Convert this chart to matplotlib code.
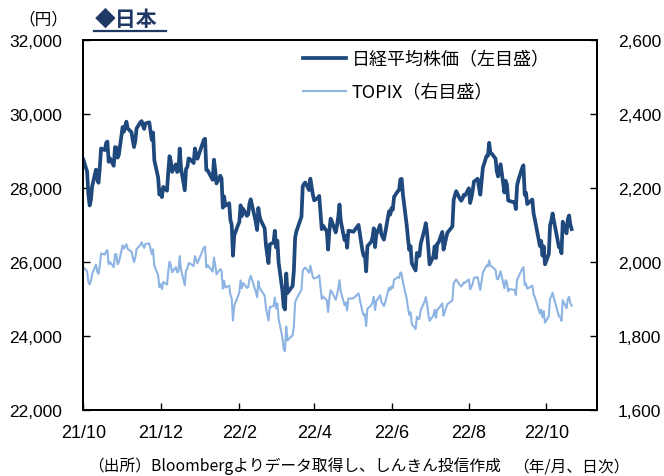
import matplotlib
matplotlib.use("Agg")
import matplotlib.pyplot as plt
import pandas as pd

# ---------------- data ----------------
months = ["2021-10", "2021-11", "2021-12", "2022-01", "2022-02", "2022-03",
          "2022-04", "2022-05", "2022-06", "2022-07", "2022-08", "2022-09", "2022-10"]

trade_days = {
    "2021-10": [1, 4, 5, 6, 7, 8, 11, 12, 13, 14, 15, 18, 19, 20, 21, 22, 25, 26, 27, 28, 29],
    "2021-11": [1, 2, 4, 5, 8, 9, 10, 11, 12, 15, 16, 17, 18, 19, 22, 24, 25, 26, 29, 30],
    "2021-12": [1, 2, 3, 6, 7, 8, 9, 10, 13, 14, 15, 16, 17, 20, 21, 22, 23, 24, 27, 28, 29, 30],
    "2022-01": [4, 5, 6, 7, 11, 12, 13, 14, 17, 18, 19, 20, 21, 24, 25, 26, 27, 28, 31],
    "2022-02": [1, 2, 3, 4, 7, 8, 9, 10, 14, 15, 16, 17, 18, 21, 22, 24, 25, 28],
    "2022-03": [1, 2, 3, 4, 7, 8, 9, 10, 11, 14, 15, 16, 17, 18, 22, 23, 24, 25, 28, 29, 30, 31],
    "2022-04": [1, 4, 5, 6, 7, 8, 11, 12, 13, 14, 15, 18, 19, 20, 21, 22, 25, 26, 27, 28],
    "2022-05": [2, 6, 9, 10, 11, 12, 13, 16, 17, 18, 19, 20, 23, 24, 25, 26, 27, 30, 31],
    "2022-06": [1, 2, 3, 6, 7, 8, 9, 10, 13, 14, 15, 16, 17, 20, 21, 22, 23, 24, 27, 28, 29, 30],
    "2022-07": [1, 4, 5, 6, 7, 8, 11, 12, 13, 14, 15, 19, 20, 21, 22, 25, 26, 27, 28, 29],
    "2022-08": [1, 2, 3, 4, 5, 8, 9, 10, 12, 15, 16, 17, 18, 19, 22, 23, 24, 25, 26, 29, 30, 31],
    "2022-09": [1, 2, 5, 6, 7, 8, 9, 12, 13, 14, 15, 16, 20, 21, 22, 26, 27, 28, 29, 30],
    "2022-10": [3, 4, 5, 6, 7, 11, 12, 13, 14, 17, 18, 19, 20, 21],
}

nikkei = {
    "2021-10": [28771, 28444, 27822, 27528, 27678, 28048, 28498, 28230, 28140, 28550, 29068, 29025, 29215,
                29255, 28708, 28804, 28600, 29106, 29098, 28820, 28892],
    "2021-11": [29647, 29520, 29794, 29611, 29507, 29285, 29106, 29277, 29609, 29776, 29808, 29688, 29598,
                29745, 29774, 29302, 29499, 28751, 28283, 27821],
    "2021-12": [27935, 27753, 28029, 27927, 28455, 28860, 28725, 28437, 28640, 28432, 28459, 29066, 28545,
                27937, 28517, 28562, 28798, 28782, 28676, 29069, 28906, 28791],
    "2022-01": [29301, 29332, 28487, 28478, 28222, 28765, 28489, 28124, 28333, 28257, 27467, 27772, 27522,
                27588, 27131, 27011, 26170, 26717, 27001],
    "2022-02": [27078, 27533, 27241, 27439, 27248, 27284, 27579, 27696, 27079, 26865, 27460, 27232, 27122,
                26910, 26449, 25970, 26476, 26526],
    "2022-03": [26844, 26393, 26577, 25985, 25221, 24790, 24717, 25690, 25163, 25307, 25346, 25762, 26652,
                26827, 27224, 28040, 28110, 28149, 27943, 28252, 28027, 27821],
    "2022-04": [27665, 27736, 27787, 27350, 26888, 26985, 26821, 26335, 26843, 27172, 27093, 26799, 26985,
                27217, 27553, 27105, 26590, 26700, 26386, 26847],
    "2022-05": [26818, 27003, 26319, 26167, 26213, 25748, 26427, 26547, 26659, 26911, 26402, 26739, 27001,
                26748, 26677, 26604, 26781, 27369, 27279],
    "2022-06": [27457, 27413, 27761, 27915, 27943, 28234, 28246, 27824, 26987, 26629, 26326, 26431, 25963,
                25771, 26246, 26149, 26171, 26491, 26871, 27049, 26804, 26393],
    "2022-07": [25935, 26153, 26423, 26107, 26490, 26517, 26812, 26336, 26478, 26643, 26788, 26961, 27680,
                27803, 27914, 27699, 27655, 27715, 27815, 27801],
    "2022-08": [27993, 27594, 27741, 27932, 28175, 28249, 27999, 27819, 28546, 28871, 28868, 29222, 28942,
                28930, 28794, 28452, 28313, 28479, 28641, 27878, 28195, 28091],
    "2022-09": [27661, 27650, 27619, 27626, 27430, 28065, 28214, 28542, 28614, 27818, 27875, 27567, 27688,
                27313, 27153, 26431, 26571, 26173, 26422, 25937],
    "2022-10": [26215, 26992, 27120, 27311, 27116, 26401, 26397, 26237, 27090, 26775, 27156, 27257, 27006,
                26890],
}

topix = {
    "2021-10": [1986, 1975, 1946, 1939, 1949, 1968, 1993, 1974, 1968, 1990, 2023, 2020, 2029, 2032, 1994,
                2000, 1986, 2021, 2021, 1994, 1999],
    "2021-11": [2045, 2036, 2048, 2035, 2028, 2013, 2000, 2012, 2035, 2046, 2053, 2045, 2038, 2049, 2050,
                2021, 2034, 1990, 1964, 1932],
    "2021-12": [1940, 1927, 1946, 1939, 1976, 2001, 1992, 1972, 1986, 1972, 1974, 2016, 1980, 1937, 1978,
                1981, 1997, 1996, 1989, 2016, 2005, 1997],
    "2022-01": [2039, 2041, 1985, 1992, 1974, 2012, 1992, 1967, 1981, 1977, 1928, 1949, 1931, 1936, 1911,
                1902, 1842, 1882, 1908],
    "2022-02": [1918, 1950, 1929, 1943, 1930, 1932, 1953, 1963, 1920, 1905, 1948, 1931, 1924, 1909, 1876,
                1842, 1878, 1881],
    "2022-03": [1904, 1874, 1888, 1847, 1795, 1764, 1759, 1826, 1788, 1799, 1801, 1827, 1890, 1900, 1925,
                1977, 1982, 1985, 1971, 1990, 1974, 1959],
    "2022-04": [1955, 1960, 1964, 1933, 1900, 1907, 1896, 1865, 1901, 1924, 1919, 1898, 1911, 1928, 1951,
                1920, 1883, 1891, 1869, 1901],
    "2022-05": [1902, 1915, 1867, 1856, 1859, 1827, 1874, 1883, 1891, 1906, 1870, 1894, 1910, 1892, 1887,
                1881, 1891, 1930, 1924],
    "2022-06": [1934, 1930, 1952, 1959, 1957, 1972, 1968, 1946, 1900, 1875, 1857, 1864, 1832, 1819, 1852,
                1845, 1847, 1870, 1892, 1905, 1888, 1859],
    "2022-07": [1841, 1855, 1871, 1849, 1872, 1874, 1888, 1855, 1865, 1876, 1886, 1896, 1942, 1948, 1953,
                1937, 1934, 1938, 1945, 1944],
    "2022-08": [1953, 1926, 1933, 1942, 1957, 1959, 1938, 1925, 1971, 1991, 1988, 2004, 1989, 1988, 1979,
                1955, 1953, 1964, 1975, 1929, 1951, 1944],
    "2022-09": [1921, 1927, 1925, 1925, 1911, 1952, 1959, 1982, 1986, 1938, 1942, 1928, 1936, 1913, 1905,
                1861, 1871, 1850, 1867, 1836],
    "2022-10": [1853, 1901, 1907, 1917, 1903, 1853, 1852, 1841, 1897, 1875, 1899, 1906, 1889, 1882],
}

tick_dates = ["2021-10-01", "2021-12-01", "2022-02-01", "2022-04-01", "2022-06-01", "2022-08-01", "2022-10-01"]
tick_labels = ["21/10", "21/12", "22/2", "22/4", "22/6", "22/8", "22/10"]
left_ticks = [22000, 24000, 26000, 28000, 30000, 32000]
right_ticks = [1600, 1800, 2000, 2200, 2400, 2600]

series_names = ["日経平均株価（左目盛）", "TOPIX（右目盛）"]

# --------------- build ---------------
dates, nk, tp = [], [], []
for m in months:
    for d, a, b in zip(trade_days[m], nikkei[m], topix[m]):
        dates.append(pd.Timestamp(f"{m}-{d:02d}"))
        nk.append(a)
        tp.append(b)

W, H = 664, 477
fig = plt.figure(figsize=(W / 100, H / 100), dpi=100)
ax = fig.add_axes([83.3 / W, 1 - 411 / H, (597 - 83.3) / W, (411 - 41) / H])
ax2 = ax.twinx()

NK_COLOR = "#1F497D"
TP_COLOR = "#8DB4E2"
num_font = ["Liberation Sans", "Noto Sans CJK JP"]
jp_font = ["Noto Sans CJK JP", "DejaVu Sans"]

l2, = ax2.plot(dates, tp, color=TP_COLOR, lw=1.5, solid_joinstyle="round")
l1, = ax.plot(dates, nk, color=NK_COLOR, lw=2.7, solid_joinstyle="round")
ax.set_zorder(ax2.get_zorder() + 1)
ax.patch.set_visible(False)

ax.set_xlim(pd.Timestamp("2021-10-01"), pd.Timestamp("2022-11-10"))
ax.set_ylim(22000, 32000)
ax2.set_ylim(1600, 2600)

ax.set_xticks([pd.Timestamp(t) for t in tick_dates])
ax.set_xticklabels(tick_labels, fontfamily=num_font, fontsize=13)
ax.set_yticks(left_ticks)
ax.set_yticklabels([f"{v:,}" for v in left_ticks], fontfamily=num_font, fontsize=12.5)
ax2.set_yticks(right_ticks)
ax2.set_yticklabels([f"{v:,}" for v in right_ticks], fontfamily=num_font, fontsize=12.5)

ax.tick_params(axis="x", direction="in", length=5, width=1.0, pad=10, colors="black")
ax.tick_params(axis="y", direction="in", length=5, width=1.0, pad=15)
ax2.tick_params(axis="y", direction="in", length=5, width=1.0, pad=15)
for a in (ax, ax2):
    for s in a.spines.values():
        s.set_linewidth(1.4)
        s.set_color("black")

leg = ax.legend([l1, l2], series_names, loc="upper left",
                bbox_to_anchor=((303 - 83.3) / (597 - 83.3), 1 - (51 - 41) / 370),
                frameon=False, handlelength=2.4, handletextpad=0.3, labelspacing=0.85,
                prop={"family": jp_font, "size": 13}, borderaxespad=0, borderpad=0)

# --------------- texts ---------------
def ft(x, y, s, **kw):
    fig.text(x / W, 1 - y / H, s, **kw)

ft(43, 20, "（円）", ha="center", va="center", fontsize=12, family=jp_font)
ft(95, 19, "◆日本", ha="left", va="center", fontsize=15, fontweight="bold",
   color="#1F3864", family=jp_font)
fig.add_artist(plt.Line2D([94 / W, 166 / W], [1 - 32 / H, 1 - 32 / H],
                          color="#1F3864", lw=1.6))
ft(88, 466, "（出所）Bloombergよりデータ取得し、しんきん投信作成", ha="left", va="center",
   fontsize=11.3, family=jp_font)
ft(630, 467, "（年/月、日次）", ha="right", va="center", fontsize=11.3, family=jp_font)

fig.savefig("out.png", dpi=100)
